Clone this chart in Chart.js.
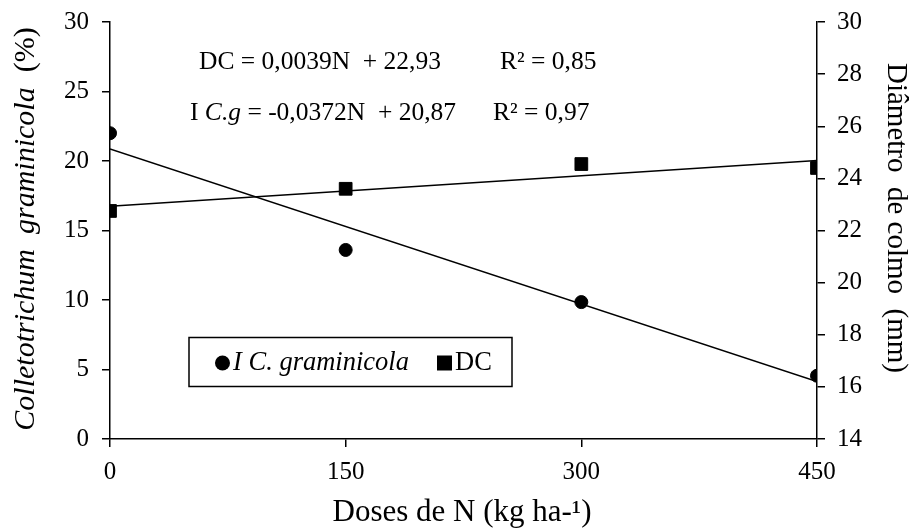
<!DOCTYPE html>
<html lang="pt">
<head>
<meta charset="UTF-8">
<title>Doses de N</title>
<script src="https://cdn.jsdelivr.net/npm/chart.js"></script>
<style>
  html, body { margin: 0; padding: 0; background: #fff; }
  .wrap { width: 910px; height: 528px; }
</style>
</head>
<body>
<div class="wrap"><canvas id="grafico" width="910" height="528"></canvas></div>
<script>
// dados
const doses = [0, 150, 300, 450];
const incidenciaCg = [22.0, 13.6, 9.85, 4.55];   // eixo esquerdo (%)
const diametroDC = [22.75, 23.6, 24.55, 24.4];   // eixo direito (mm)
const tendDoses = [0, 450];
const tendCg = [20.87, 4.13];
const tendDC = [22.93, 24.69];
const xTicks = [0, 150, 300, 450];

const fonte = "'Liberation Serif', 'Times New Roman', serif";

function pares(xs, ys) {
  return xs.map((x, i) => ({ x: x, y: ys[i] }));
}

// escreve partes com fontes diferentes na mesma linha
function textoMisto(ctx, partes, x, y, tam, alinhar) {
  let total = 0;
  partes.forEach(p => {
    ctx.font = (p.it ? 'italic ' : '') + tam + 'px ' + fonte;
    p.w = ctx.measureText(p.t).width;
    total += p.w;
  });
  let cx = alinhar === 'center' ? x - total / 2 : x;
  ctx.textAlign = 'left';
  ctx.textBaseline = 'middle';
  partes.forEach(p => {
    ctx.font = (p.it ? 'italic ' : '') + tam + 'px ' + fonte;
    ctx.fillText(p.t, cx, y);
    cx += p.w;
  });
}

const extras = {
  id: 'extras',
  afterDraw(chart) {
    const ctx = chart.ctx;
    ctx.save();
    ctx.fillStyle = '#000';

    // titulo eixo esquerdo
    ctx.save();
    ctx.translate(26, 229);
    ctx.rotate(-Math.PI / 2);
    textoMisto(ctx, [{ t: 'Colletotrichum  graminicola', it: true }, { t: '  (%)' }], 0, 0, 30, 'center');
    ctx.restore();

    // titulo eixo direito
    ctx.save();
    ctx.translate(896, 218);
    ctx.rotate(Math.PI / 2);
    textoMisto(ctx, [{ t: 'Diâmetro  de colmo  (mm)' }], 0, 0, 29, 'center');
    ctx.restore();

    // titulo eixo x
    textoMisto(ctx, [{ t: 'Doses de N (kg ha-¹)' }], 462, 513, 31, 'center');

    // equacoes
    textoMisto(ctx, [{ t: 'DC = 0,0039N  + 22,93' }], 199, 62, 25.5, 'left');
    textoMisto(ctx, [{ t: 'R² = 0,85' }], 500, 62, 25.5, 'left');
    textoMisto(ctx, [{ t: 'I ' }, { t: 'C.g', it: true }, { t: ' = -0,0372N  + 20,87' }], 190, 113, 25.5, 'left');
    textoMisto(ctx, [{ t: 'R² = 0,97' }], 493, 113, 25.5, 'left');

    // legenda
    ctx.lineWidth = 1.5;
    ctx.strokeStyle = '#000';
    ctx.strokeRect(189, 337.5, 323, 49);
    ctx.beginPath();
    ctx.arc(222.5, 363, 7.5, 0, Math.PI * 2);
    ctx.fill();
    textoMisto(ctx, [{ t: 'I C. graminicola', it: true }], 233, 363, 26.5, 'left');
    ctx.fillRect(437, 355.5, 15, 15);
    textoMisto(ctx, [{ t: 'DC' }], 455, 363, 26.5, 'left');
    ctx.restore();
  }
};

function eixoY(largura) {
  return s => {
    s.width = largura;
    s.paddingTop = 0;
    s.paddingBottom = 0;
  };
}

const ctx = document.getElementById('grafico').getContext('2d');
new Chart(ctx, {
  type: 'scatter',
  data: {
    datasets: [
      {
        label: 'I C. graminicola',
        data: pares(doses, incidenciaCg),
        yAxisID: 'y',
        pointStyle: 'circle',
        pointRadius: 6.5,
        borderWidth: 1,
        backgroundColor: '#000',
        borderColor: '#000',
        showLine: false
      },
      {
        label: 'DC',
        data: pares(doses, diametroDC),
        yAxisID: 'y2',
        pointStyle: 'rect',
        pointRadius: 9,
        borderWidth: 1,
        backgroundColor: '#000',
        borderColor: '#000',
        showLine: false
      },
      {
        label: 'tend Cg',
        data: pares(tendDoses, tendCg),
        yAxisID: 'y',
        showLine: true,
        pointRadius: 0,
        borderColor: '#000',
        borderWidth: 1.5
      },
      {
        label: 'tend DC',
        data: pares(tendDoses, tendDC),
        yAxisID: 'y2',
        showLine: true,
        pointRadius: 0,
        borderColor: '#000',
        borderWidth: 1.5
      }
    ]
  },
  options: {
    responsive: false,
    animation: false,
    layout: { padding: { top: 22, left: 0, right: 0, bottom: 0 } },
    plugins: {
      legend: { display: false },
      tooltip: { enabled: false }
    },
    scales: {
      x: {
        type: 'linear',
        min: 0,
        max: 450,
        afterBuildTicks: s => { s.ticks = xTicks.map(v => ({ value: v })); },
        afterFit: s => { s.height = 89; s.paddingLeft = 0; s.paddingRight = 0; },
        grid: { drawOnChartArea: false, drawTicks: true, tickLength: 8, color: '#000', lineWidth: 1.5 },
        border: { color: '#000', width: 1.5 },
        ticks: { color: '#000', font: { family: fonte, size: 25 }, padding: 10, maxRotation: 0 }
      },
      y: {
        position: 'left',
        min: 0,
        max: 30,
        afterFit: eixoY(110),
        grid: { drawOnChartArea: false, drawTicks: true, tickLength: 8, color: '#000', lineWidth: 1.5 },
        border: { color: '#000', width: 1.5 },
        ticks: { stepSize: 5, color: '#000', font: { family: fonte, size: 25 }, padding: 13 }
      },
      y2: {
        position: 'right',
        min: 14,
        max: 30,
        afterFit: eixoY(93),
        grid: { drawOnChartArea: false, drawTicks: true, tickLength: 8, color: '#000', lineWidth: 1.5 },
        border: { color: '#000', width: 1.5 },
        ticks: { stepSize: 2, color: '#000', font: { family: fonte, size: 25 }, padding: 12 }
      }
    }
  },
  plugins: [extras]
});
</script>
</body>
</html>
